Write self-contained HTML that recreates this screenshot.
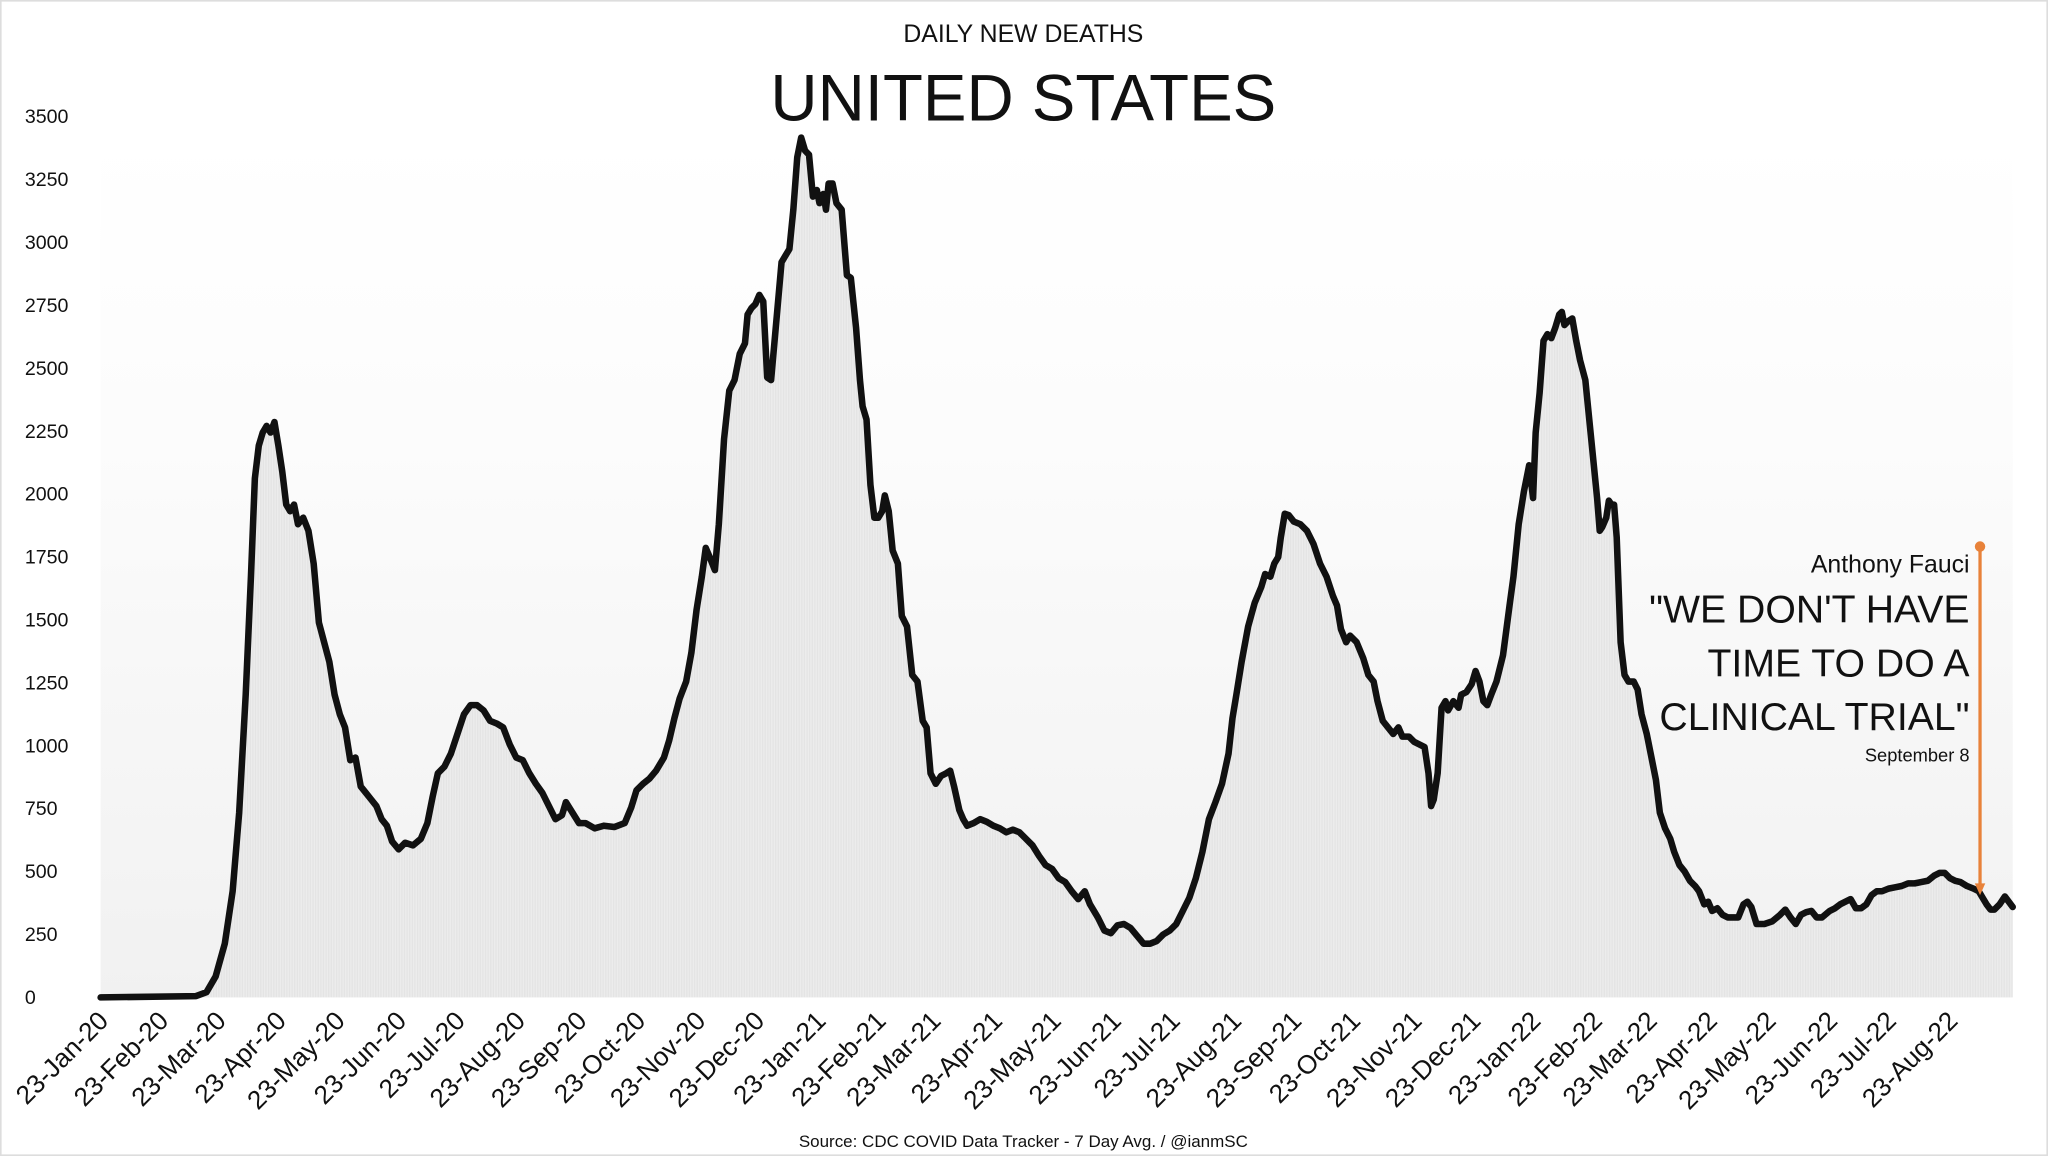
<!DOCTYPE html>
<html><head><meta charset="utf-8"><style>
html,body{margin:0;padding:0;background:#fff;}
svg{display:block;}
text{font-family:"Liberation Sans",sans-serif;fill:#111;}
</style></head><body>
<svg width="2048" height="1156" viewBox="0 0 1567 882" preserveAspectRatio="none" xmlns="http://www.w3.org/2000/svg">
<defs>
<linearGradient id="bg" x1="0" y1="0" x2="0" y2="1">
<stop offset="0" stop-color="#ffffff"/><stop offset="0.35" stop-color="#fcfcfc"/><stop offset="1" stop-color="#f1f1f1"/>
</linearGradient>
<pattern id="bars" width="2" height="10" patternUnits="userSpaceOnUse">
<rect width="2" height="10" fill="#e4e4e4"/><rect width="1" height="10" fill="#ececec"/>
</pattern>
</defs>
<rect x="0.5" y="0.5" width="1566" height="881" fill="#fff" stroke="#ddd" stroke-width="1.5"/>
<rect x="77" y="100" width="1463" height="661" fill="url(#bg)"/>
<text x="783" y="32" font-size="19" text-anchor="middle">DAILY NEW DEATHS</text>
<text x="783" y="92" font-size="50" text-anchor="middle">UNITED STATES</text>
<g font-size="15">
<text x="19" y="766">0</text><text x="19" y="718">250</text><text x="19" y="670">500</text><text x="19" y="622">750</text>
<text x="19" y="574">1000</text><text x="19" y="526">1250</text><text x="19" y="478">1500</text><text x="19" y="430">1750</text>
<text x="19" y="382">2000</text><text x="19" y="334">2250</text><text x="19" y="286">2500</text><text x="19" y="238">2750</text>
<text x="19" y="190">3000</text><text x="19" y="142">3250</text><text x="19" y="94">3500</text>
</g>
<polygon fill="url(#bars)" points="77,761 150,760 158,757 165,745 172,720 178,680 183,620 188,530 192,440 195,365 198,340 201,330 204,325 207,330 210,322 213,340 216,360 219,385 222,390 225,385 228,400 232,395 236,405 240,430 244,475 248,490 252,505 256,530 260,545 264,555 268,580 272,578 276,600 280,605 284,610 288,615 292,625 296,630 300,642 305,648 310,643 316,645 322,640 327,628 331,608 335,590 340,585 345,575 350,560 355,545 360,538 365,538 370,542 375,550 380,552 385,555 390,568 395,578 400,580 405,590 410,598 415,605 420,615 425,625 430,622 433,612 438,620 443,628 448,628 455,632 462,630 470,631 478,628 483,616 487,603 492,598 497,594 502,588 508,578 512,565 516,548 520,533 525,520 529,498 533,465 537,440 540,418 543,425 547,435 550,400 554,335 558,298 562,290 566,270 570,262 572,240 575,235 578,232 581,225 584,230 587,288 590,290 594,245 598,200 601,195 604,190 607,160 610,120 613,105 616,115 619,118 622,150 625,145 627,155 630,148 632,160 634,140 637,140 640,155 644,160 648,210 651,212 655,250 658,290 660,310 663,320 666,370 669,395 672,395 675,390 677,378 680,390 683,420 687,430 690,470 694,478 698,515 702,520 706,550 709,555 712,590 716,598 720,592 724,590 727,588 730,600 734,618 737,625 740,630 745,628 750,625 755,627 760,630 765,632 770,635 775,633 780,635 785,640 790,645 795,653 800,660 805,663 810,670 815,673 820,680 825,686 830,680 834,690 840,700 845,710 850,712 855,706 860,705 865,708 870,714 875,720 880,720 885,718 890,713 895,710 900,705 905,695 910,685 915,670 920,650 925,625 930,612 935,598 940,575 943,548 946,530 950,505 955,478 960,460 965,448 968,438 972,440 975,430 978,425 980,410 983,392 986,393 990,398 995,400 1000,405 1005,415 1010,430 1015,440 1020,455 1023,462 1026,480 1030,490 1033,485 1038,490 1043,502 1047,515 1051,520 1054,535 1058,550 1062,555 1066,560 1070,555 1073,562 1078,562 1082,566 1086,568 1090,570 1093,590 1095,615 1097,610 1100,590 1103,540 1106,535 1108,542 1112,535 1116,540 1118,530 1122,528 1126,522 1129,512 1132,520 1135,535 1138,538 1141,530 1145,520 1150,500 1155,462 1158,440 1162,400 1166,375 1170,355 1173,380 1175,330 1178,300 1181,260 1184,255 1187,258 1190,250 1193,240 1195,238 1197,248 1200,245 1203,243 1206,260 1209,275 1213,290 1216,320 1219,350 1222,380 1224,405 1226,402 1229,395 1231,382 1233,385 1235,385 1237,410 1240,490 1243,515 1246,520 1250,520 1253,526 1256,545 1260,560 1264,580 1267,595 1270,620 1274,632 1278,640 1281,650 1285,660 1289,665 1293,672 1297,676 1300,680 1304,690 1307,688 1310,695 1314,693 1318,698 1322,700 1326,700 1330,700 1334,690 1337,688 1340,692 1344,705 1350,705 1356,703 1362,698 1366,694 1370,700 1374,705 1378,698 1382,696 1386,695 1390,700 1394,700 1400,695 1404,693 1408,690 1412,688 1416,686 1420,693 1424,693 1428,690 1432,683 1436,680 1440,680 1445,678 1450,677 1455,676 1460,674 1465,674 1470,673 1475,672 1480,668 1484,666 1488,666 1492,670 1496,672 1500,673 1505,676 1510,678 1514,680 1517,685 1520,690 1523,694 1526,694 1530,690 1534,684 1537,688 1540,692 1540,761"/>
<polyline fill="none" stroke="#111" stroke-width="5" stroke-linejoin="round" stroke-linecap="round" points="77,761 150,760 158,757 165,745 172,720 178,680 183,620 188,530 192,440 195,365 198,340 201,330 204,325 207,330 210,322 213,340 216,360 219,385 222,390 225,385 228,400 232,395 236,405 240,430 244,475 248,490 252,505 256,530 260,545 264,555 268,580 272,578 276,600 280,605 284,610 288,615 292,625 296,630 300,642 305,648 310,643 316,645 322,640 327,628 331,608 335,590 340,585 345,575 350,560 355,545 360,538 365,538 370,542 375,550 380,552 385,555 390,568 395,578 400,580 405,590 410,598 415,605 420,615 425,625 430,622 433,612 438,620 443,628 448,628 455,632 462,630 470,631 478,628 483,616 487,603 492,598 497,594 502,588 508,578 512,565 516,548 520,533 525,520 529,498 533,465 537,440 540,418 543,425 547,435 550,400 554,335 558,298 562,290 566,270 570,262 572,240 575,235 578,232 581,225 584,230 587,288 590,290 594,245 598,200 601,195 604,190 607,160 610,120 613,105 616,115 619,118 622,150 625,145 627,155 630,148 632,160 634,140 637,140 640,155 644,160 648,210 651,212 655,250 658,290 660,310 663,320 666,370 669,395 672,395 675,390 677,378 680,390 683,420 687,430 690,470 694,478 698,515 702,520 706,550 709,555 712,590 716,598 720,592 724,590 727,588 730,600 734,618 737,625 740,630 745,628 750,625 755,627 760,630 765,632 770,635 775,633 780,635 785,640 790,645 795,653 800,660 805,663 810,670 815,673 820,680 825,686 830,680 834,690 840,700 845,710 850,712 855,706 860,705 865,708 870,714 875,720 880,720 885,718 890,713 895,710 900,705 905,695 910,685 915,670 920,650 925,625 930,612 935,598 940,575 943,548 946,530 950,505 955,478 960,460 965,448 968,438 972,440 975,430 978,425 980,410 983,392 986,393 990,398 995,400 1000,405 1005,415 1010,430 1015,440 1020,455 1023,462 1026,480 1030,490 1033,485 1038,490 1043,502 1047,515 1051,520 1054,535 1058,550 1062,555 1066,560 1070,555 1073,562 1078,562 1082,566 1086,568 1090,570 1093,590 1095,615 1097,610 1100,590 1103,540 1106,535 1108,542 1112,535 1116,540 1118,530 1122,528 1126,522 1129,512 1132,520 1135,535 1138,538 1141,530 1145,520 1150,500 1155,462 1158,440 1162,400 1166,375 1170,355 1173,380 1175,330 1178,300 1181,260 1184,255 1187,258 1190,250 1193,240 1195,238 1197,248 1200,245 1203,243 1206,260 1209,275 1213,290 1216,320 1219,350 1222,380 1224,405 1226,402 1229,395 1231,382 1233,385 1235,385 1237,410 1240,490 1243,515 1246,520 1250,520 1253,526 1256,545 1260,560 1264,580 1267,595 1270,620 1274,632 1278,640 1281,650 1285,660 1289,665 1293,672 1297,676 1300,680 1304,690 1307,688 1310,695 1314,693 1318,698 1322,700 1326,700 1330,700 1334,690 1337,688 1340,692 1344,705 1350,705 1356,703 1362,698 1366,694 1370,700 1374,705 1378,698 1382,696 1386,695 1390,700 1394,700 1400,695 1404,693 1408,690 1412,688 1416,686 1420,693 1424,693 1428,690 1432,683 1436,680 1440,680 1445,678 1450,677 1455,676 1460,674 1465,674 1470,673 1475,672 1480,668 1484,666 1488,666 1492,670 1496,672 1500,673 1505,676 1510,678 1514,680 1517,685 1520,690 1523,694 1526,694 1530,690 1534,684 1537,688 1540,692"/>
<line x1="1515" y1="417" x2="1515" y2="676" stroke="#e8823a" stroke-width="2.5"/>
<circle cx="1515" cy="417" r="4" fill="#e8823a"/>
<polygon points="1511,674 1519,674 1515,683" fill="#e8823a"/>
<g text-anchor="end">
<text x="1507" y="437" font-size="19">Anthony Fauci</text>
<text x="1507" y="475" font-size="30">"WE DON'T HAVE</text>
<text x="1507" y="516" font-size="30">TIME TO DO A</text>
<text x="1507" y="557" font-size="30">CLINICAL TRIAL"</text>
<text x="1507" y="581" font-size="14">September 8</text>
</g>
<g font-size="20" text-anchor="end">
<text transform="translate(84,780) rotate(-45)">23-Jan-20</text>
<text transform="translate(130,780) rotate(-45)">23-Feb-20</text>
<text transform="translate(174,780) rotate(-45)">23-Mar-20</text>
<text transform="translate(220,780) rotate(-45)">23-Apr-20</text>
<text transform="translate(265,780) rotate(-45)">23-May-20</text>
<text transform="translate(312,780) rotate(-45)">23-Jun-20</text>
<text transform="translate(357,780) rotate(-45)">23-Jul-20</text>
<text transform="translate(403,780) rotate(-45)">23-Aug-20</text>
<text transform="translate(450,780) rotate(-45)">23-Sep-20</text>
<text transform="translate(495,780) rotate(-45)">23-Oct-20</text>
<text transform="translate(541,780) rotate(-45)">23-Nov-20</text>
<text transform="translate(586,780) rotate(-45)">23-Dec-20</text>
<text transform="translate(633,780) rotate(-45)">23-Jan-21</text>
<text transform="translate(679,780) rotate(-45)">23-Feb-21</text>
<text transform="translate(721,780) rotate(-45)">23-Mar-21</text>
<text transform="translate(768,780) rotate(-45)">23-Apr-21</text>
<text transform="translate(813,780) rotate(-45)">23-May-21</text>
<text transform="translate(859,780) rotate(-45)">23-Jun-21</text>
<text transform="translate(904,780) rotate(-45)">23-Jul-21</text>
<text transform="translate(951,780) rotate(-45)">23-Aug-21</text>
<text transform="translate(997,780) rotate(-45)">23-Sep-21</text>
<text transform="translate(1042,780) rotate(-45)">23-Oct-21</text>
<text transform="translate(1089,780) rotate(-45)">23-Nov-21</text>
<text transform="translate(1134,780) rotate(-45)">23-Dec-21</text>
<text transform="translate(1180,780) rotate(-45)">23-Jan-22</text>
<text transform="translate(1227,780) rotate(-45)">23-Feb-22</text>
<text transform="translate(1269,780) rotate(-45)">23-Mar-22</text>
<text transform="translate(1315,780) rotate(-45)">23-Apr-22</text>
<text transform="translate(1360,780) rotate(-45)">23-May-22</text>
<text transform="translate(1407,780) rotate(-45)">23-Jun-22</text>
<text transform="translate(1452,780) rotate(-45)">23-Jul-22</text>
<text transform="translate(1499,780) rotate(-45)">23-Aug-22</text>
</g>
<text x="783" y="875" font-size="13" text-anchor="middle">Source: CDC COVID Data Tracker - 7 Day Avg. / @ianmSC</text>
</svg>
</body></html>
